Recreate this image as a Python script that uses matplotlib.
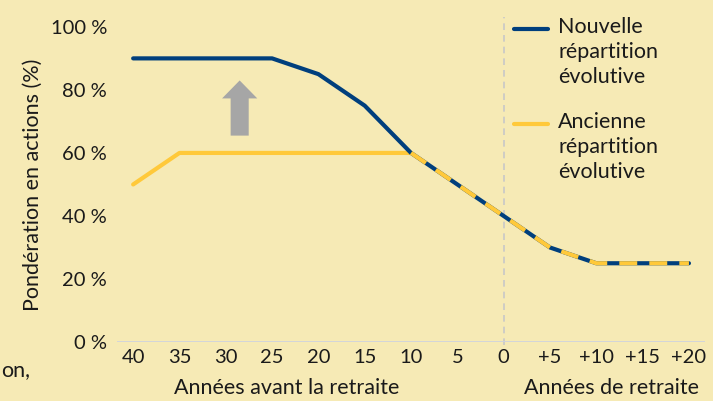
import matplotlib.pyplot as plt
from matplotlib.lines import Line2D
from matplotlib.patches import FancyArrow

plt.rcParams['font.family'] = ['Lato', 'DejaVu Sans']

years = ['40', '35', '30', '25', '20', '15', '10', '5', '0', '+5', '+10', '+15', '+20']
new_alloc = [90, 90, 90, 90, 85, 75, 60, 50, 40, 30, 25, 25, 25]
old_alloc = [50, 60, 60, 60, 60, 60, 60, 50, 40, 30, 25, 25, 25]
yticks = [0, 20, 40, 60, 80, 100]

bg = '#F6EAB5'
blue = '#003F7D'
yellow = '#FFC93A'
txtc = '#1A1A1A'

fig = plt.figure(figsize=(7.13, 4.01), dpi=100, facecolor=bg)
ax = fig.add_axes([0.164, 0.147, 0.825, 0.786])
ax.set_facecolor(bg)

x = list(range(len(years)))
split = years.index('10')

# vertical separator at retirement
ax.axvline(years.index('0'), ymin=-0.01, ymax=1.03, color='#C8C8C8', lw=1.2,
           ls=(0, (4, 3)), clip_on=False, zorder=1)
ax.axhline(0, color='#CFD3DD', lw=2, zorder=1)

ax.plot(x, new_alloc, color=blue, lw=3, solid_capstyle='round', solid_joinstyle='round', zorder=3)
ax.plot(x[:split + 1], old_alloc[:split + 1], color=yellow, lw=3,
        solid_capstyle='round', solid_joinstyle='round', zorder=2)
ax.plot(x[split:], old_alloc[split:], color=yellow, lw=3, dashes=(4.3, 2.9),
        dash_capstyle='butt', zorder=4)

# grey arrow showing the increase
ax.add_patch(FancyArrow(2.3, 65.5, 0, 17.5, width=0.39, head_width=0.76, head_length=5.7,
                        length_includes_head=True, color='#A6A6A6', lw=0, zorder=2))

ax.set_xlim(-0.35, 12.35)
ax.set_ylim(0, 100)
ax.set_xticks(x)
ax.set_xticklabels(years, fontsize=14.5, color=txtc)
ax.set_yticks(yticks)
ax.set_yticklabels(['%d %%' % v for v in yticks], fontsize=14.5, color=txtc)
ax.tick_params(length=0, pad=5)
ax.tick_params(axis='y', pad=7)
for s in ax.spines.values():
    s.set_visible(False)

ax.set_ylabel('Pondération en actions (%)', fontsize=15.5, color=txtc, labelpad=6)

fig.text(287 / 713, 1 - 388 / 401, 'Années avant la retraite', ha='center', va='center',
         fontsize=15.5, color=txtc)
fig.text(612 / 713, 1 - 388 / 401, 'Années de retraite', ha='center', va='center',
         fontsize=15.5, color=txtc)
fig.text(0.002, 1 - 370 / 401, 'on,', ha='left', va='center', fontsize=15.5, color=txtc)

# legend
for txt, col, ytop in [('Nouvelle\nrépartition\névolutive', blue, 29),
                       ('Ancienne\nrépartition\névolutive', yellow, 124)]:
    fig.add_artist(Line2D([514 / 713, 548 / 713], [1 - ytop / 401] * 2, color=col, lw=3,
                          solid_capstyle='round'))
    fig.text(558 / 713, 1 - (ytop - 12) / 401, txt, ha='left', va='top', fontsize=15.5,
             color=txtc, linespacing=1.32)

fig.savefig('out.png', dpi=100, facecolor=bg)
